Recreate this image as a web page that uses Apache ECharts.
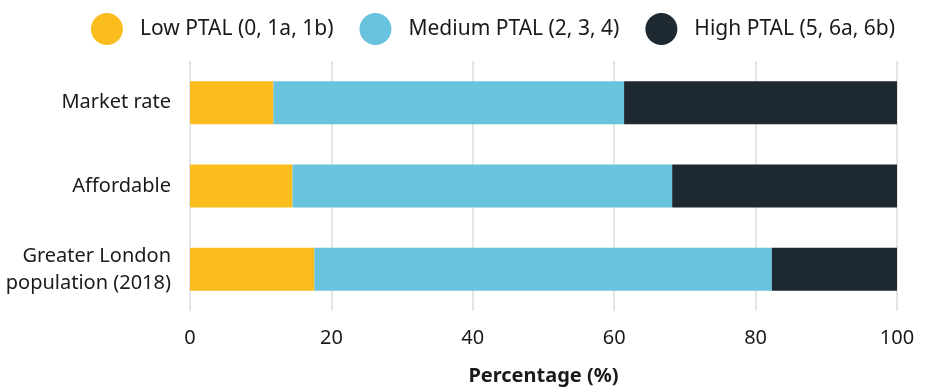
<!DOCTYPE html>
<html>
<head>
<meta charset="utf-8">
<title>PTAL distribution</title>
<script src="https://cdn.jsdelivr.net/npm/echarts@6/dist/echarts.min.js"></script>
<style>
  html, body { margin: 0; padding: 0; background: #ffffff; }
  #chart { width: 925px; height: 390px; }
</style>
</head>
<body>
<div id="chart"></div>
<script>
// Share of homes / population by Public Transport Accessibility Level band
const categories = ['Market rate', 'Affordable', 'Greater London\npopulation (2018)'];
const lowPtal = [11.8, 14.5, 17.6];
const mediumPtal = [49.6, 53.7, 64.7];
const highPtal = [38.6, 31.8, 17.7];
const seriesNames = ['Low PTAL (0, 1a, 1b)', 'Medium PTAL (2, 3, 4)', 'High PTAL (5, 6a, 6b)'];
const xTicks = [0, 20, 40, 60, 80, 100];

const colors = ['#FBBC1E', '#69C3DF', '#1F2932'];
const fontFamily = 'Noto Sans, sans-serif';

const chart = echarts.init(document.getElementById('chart'), null, { renderer: 'canvas' });

const seriesData = [lowPtal, mediumPtal, highPtal];

chart.setOption({
  animation: false,
  color: colors,
  textStyle: { fontFamily: fontFamily, color: '#1a1a1a' },
  legend: {
    top: 8,
    right: 25,
    icon: 'circle',
    itemWidth: 32,
    itemHeight: 32,
    itemGap: 26,
    textStyle: { fontSize: 21, color: '#1a1a1a', padding: [0, 0, 0, 12], fontFamily: fontFamily },
    data: seriesNames
  },
  grid: { left: 190, right: 28, top: 61, bottom: 79, containLabel: false, outerBoundsMode: 'none' },
  xAxis: {
    type: 'value',
    min: xTicks[0],
    max: xTicks[xTicks.length - 1],
    interval: 20,
    axisLine: { show: false },
    axisTick: { show: false },
    splitLine: { show: true, lineStyle: { color: '#dcdcdc', width: 1.5 } },
    axisLabel: { fontSize: 20, color: '#1a1a1a', margin: 17, fontFamily: fontFamily },
    name: 'Percentage (%)',
    nameLocation: 'middle',
    nameGap: 55,
    nameTextStyle: { fontSize: 20, fontWeight: 'bold', color: '#1a1a1a', fontFamily: fontFamily }
  },
  yAxis: {
    type: 'category',
    inverse: true,
    data: categories,
    axisLine: { show: false },
    axisTick: { show: false },
    axisLabel: { fontSize: 20, color: '#1a1a1a', margin: 19, lineHeight: 27, align: 'right', fontFamily: fontFamily }
  },
  series: seriesNames.map((name, i) => ({
    name: name,
    type: 'bar',
    stack: 'ptal',
    barWidth: 43,
    data: seriesData[i],
    itemStyle: { color: colors[i] }
  }))
});
</script>
</body>
</html>
